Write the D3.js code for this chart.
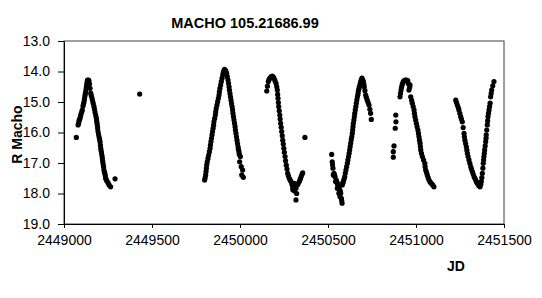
<!DOCTYPE html>
<html>
<head>
<meta charset="utf-8">
<script src="https://cdn.jsdelivr.net/npm/d3@7"></script>
<style>
  body { margin: 0; background: #fff; }
  svg { font-family: Arial, "Liberation Sans", sans-serif; }
  .title { font-weight: bold; font-size: 14.5px; }
  .axis-label { font-weight: bold; font-size: 14px; }
  .tick text { font-size: 14px; fill: #000; }
</style>
</head>
<body>
<svg id="chart" width="542" height="298"></svg>
<script>
const titleText = 'MACHO 105.21686.99';
const xAxisLabelText = 'JD';
const yAxisLabelText = 'R Macho';

const xTicks = [2449000, 2449500, 2450000, 2450500, 2451000, 2451500];
const yTicks = [13, 14, 15, 16, 17, 18, 19];

// observing season 1 (plus the lone point at 2449430)
const season1Jd = [
  2449070, 2449080, 2449083, 2449085, 2449088, 2449091, 2449094, 2449097, 2449101, 2449104,
  2449108, 2449111, 2449114, 2449116, 2449119, 2449121, 2449123, 2449126, 2449128, 2449130,
  2449132, 2449134, 2449136, 2449139, 2449142, 2449145, 2449148, 2449152, 2449155, 2449159,
  2449162, 2449166, 2449170, 2449173, 2449176, 2449180, 2449183, 2449185, 2449187, 2449189,
  2449191, 2449193, 2449196, 2449199, 2449202, 2449205, 2449207, 2449209, 2449211, 2449213,
  2449216, 2449218, 2449220, 2449222, 2449225, 2449227, 2449230, 2449233, 2449235, 2449237,
  2449240, 2449244, 2449250, 2449256, 2449265, 2449290, 2449430
];
const season1Mag = [
  16.16, 15.75, 15.70, 15.62, 15.58, 15.53, 15.46, 15.39, 15.32, 15.26,
  15.13, 15.06, 14.99, 14.90, 14.80, 14.73, 14.66, 14.56, 14.48, 14.40,
  14.33, 14.28, 14.30, 14.28, 14.31, 14.41, 14.55, 14.71, 14.79, 14.87,
  14.95, 15.04, 15.14, 15.23, 15.33, 15.43, 15.51, 15.59, 15.67, 15.75,
  15.85, 15.95, 16.05, 16.14, 16.22, 16.31, 16.42, 16.52, 16.60, 16.67,
  16.76, 16.85, 16.94, 17.03, 17.13, 17.23, 17.30, 17.36, 17.43, 17.50,
  17.55, 17.59, 17.65, 17.72, 17.78, 17.52, 14.74
];

// season 2
const season2Jd = [
  2449799, 2449802, 2449805, 2449807, 2449809, 2449811, 2449814, 2449818, 2449822, 2449826,
  2449830, 2449832, 2449835, 2449838, 2449841, 2449844, 2449847, 2449850, 2449852, 2449856,
  2449860, 2449862, 2449865, 2449869, 2449873, 2449877, 2449881, 2449883, 2449886, 2449890,
  2449894, 2449898, 2449902, 2449905, 2449909, 2449912, 2449915, 2449918, 2449920, 2449924,
  2449928, 2449932, 2449935, 2449938, 2449940, 2449943, 2449946, 2449949, 2449952, 2449955,
  2449958, 2449960, 2449963, 2449966, 2449969, 2449972, 2449974, 2449977, 2449980, 2449983,
  2449986, 2449989, 2449991, 2449994, 2449996, 2449998, 2450002, 2450007, 2450010, 2450015,
  2450019
];
const season2Mag = [
  17.56, 17.48, 17.39, 17.28, 17.17, 17.06, 16.96, 16.85, 16.74, 16.63,
  16.52, 16.41, 16.30, 16.19, 16.08, 15.97, 15.86, 15.76, 15.65, 15.54,
  15.43, 15.32, 15.21, 15.10, 14.99, 14.88, 14.77, 14.66, 14.55, 14.44,
  14.33, 14.22, 14.11, 14.03, 13.97, 13.93, 13.95, 13.97, 14.00, 14.06,
  14.17, 14.28, 14.39, 14.50, 14.61, 14.72, 14.83, 14.94, 15.05, 15.15,
  15.26, 15.37, 15.48, 15.59, 15.70, 15.81, 15.92, 16.03, 16.14, 16.25,
  16.36, 16.47, 16.55, 16.63, 16.71, 16.96, 16.79, 17.12, 17.39, 17.23,
  17.47
];

// season 3
const season3Jd = [
  2450152, 2450156, 2450161, 2450165, 2450170, 2450177, 2450184, 2450189, 2450193, 2450199,
  2450205, 2450209, 2450212, 2450214, 2450216, 2450218, 2450220, 2450223, 2450226, 2450228,
  2450231, 2450234, 2450237, 2450240, 2450243, 2450246, 2450249, 2450252, 2450256, 2450259,
  2450263, 2450267, 2450271, 2450275, 2450280, 2450285, 2450290, 2450295, 2450299, 2450300,
  2450304, 2450309, 2450310, 2450313, 2450318, 2450318, 2450322, 2450326, 2450330, 2450337,
  2450342, 2450347, 2450352, 2450356, 2450369
];
const season3Mag = [
  14.64, 14.48, 14.33, 14.26, 14.22, 14.17, 14.15, 14.18, 14.22, 14.30,
  14.39, 14.50, 14.61, 14.75, 14.88, 15.02, 15.15, 15.29, 15.43, 15.56,
  15.70, 15.83, 15.97, 16.11, 16.25, 16.38, 16.52, 16.65, 16.79, 16.93,
  17.07, 17.20, 17.34, 17.42, 17.50, 17.56, 17.61, 17.70, 17.78, 17.88,
  17.74, 17.67, 17.92, 17.80, 17.83, 18.21, 18.00, 17.72, 17.68, 17.61,
  17.53, 17.45, 17.38, 17.32, 16.16
];

// season 4
const season4Jd = [
  2450521, 2450524, 2450526, 2450528, 2450530, 2450534, 2450537, 2450540, 2450543, 2450547,
  2450550, 2450553, 2450553, 2450556, 2450559, 2450562, 2450564, 2450567, 2450568, 2450570,
  2450572, 2450576, 2450578, 2450580, 2450581, 2450584, 2450587, 2450591, 2450595, 2450598,
  2450602, 2450606, 2450610, 2450613, 2450617, 2450620, 2450623, 2450626, 2450629, 2450632,
  2450635, 2450638, 2450640, 2450642, 2450644, 2450647, 2450650, 2450652, 2450655, 2450658,
  2450661, 2450664, 2450667, 2450670, 2450672, 2450675, 2450678, 2450682, 2450686, 2450689,
  2450693, 2450697, 2450701, 2450704, 2450706, 2450710, 2450714, 2450718, 2450723, 2450728,
  2450733, 2450738, 2450742, 2450746
];
const season4Mag = [
  16.72, 16.96, 17.06, 17.17, 17.39, 17.34, 17.40, 17.45, 17.61, 17.56,
  17.62, 17.67, 17.83, 17.72, 17.78, 17.99, 17.84, 17.89, 18.10, 17.94,
  17.99, 18.16, 18.24, 18.32, 17.72, 17.66, 17.61, 17.53, 17.45, 17.34,
  17.23, 17.12, 17.01, 16.90, 16.79, 16.68, 16.57, 16.46, 16.35, 16.24,
  16.14, 16.03, 15.92, 15.81, 15.70, 15.59, 15.48, 15.37, 15.26, 15.15,
  15.04, 14.93, 14.83, 14.75, 14.66, 14.58, 14.50, 14.41, 14.33, 14.27,
  14.22, 14.27, 14.33, 14.41, 14.50, 14.63, 14.77, 14.85, 14.94, 15.02,
  15.10, 15.24, 15.37, 15.57
];

// season 5
const season5Jd = [
  2450871, 2450871, 2450875, 2450882, 2450885, 2450886, 2450909, 2450912, 2450915, 2450918,
  2450921, 2450925, 2450928, 2450933, 2450939, 2450946, 2450953, 2450957, 2450960, 2450964,
  2450966, 2450970, 2450975, 2450979, 2450984, 2450989, 2450991, 2450994, 2450998, 2451002,
  2451006, 2451011, 2451014, 2451017, 2451020, 2451023, 2451025, 2451027, 2451031, 2451036,
  2451043, 2451050, 2451052, 2451055, 2451060, 2451064, 2451069, 2451074, 2451080, 2451087,
  2451095, 2451102
];
const season5Mag = [
  16.63, 16.81, 16.44, 15.86, 15.43, 15.65, 14.83, 14.72, 14.61, 14.52,
  14.44, 14.38, 14.33, 14.30, 14.28, 14.28, 14.30, 14.40, 14.61, 14.52,
  14.44, 14.83, 14.94, 15.04, 15.15, 15.26, 15.37, 15.48, 15.59, 15.70,
  15.81, 15.92, 16.03, 16.14, 16.25, 16.35, 16.46, 16.57, 16.68, 16.79,
  16.90, 17.01, 17.12, 17.23, 17.31, 17.39, 17.48, 17.56, 17.62, 17.67,
  17.72, 17.78
];

// season 6
const season6Jd = [
  2451226, 2451230, 2451235, 2451240, 2451244, 2451249, 2451254, 2451258, 2451263, 2451268,
  2451273, 2451275, 2451278, 2451282, 2451286, 2451289, 2451292, 2451296, 2451301, 2451306,
  2451311, 2451315, 2451320, 2451325, 2451330, 2451335, 2451339, 2451344, 2451349, 2451356,
  2451364, 2451368, 2451371, 2451374, 2451377, 2451380, 2451382, 2451384, 2451386, 2451388,
  2451390, 2451393, 2451396, 2451398, 2451399, 2451402, 2451405, 2451407, 2451409, 2451412,
  2451415, 2451418, 2451421, 2451424, 2451427, 2451430, 2451436, 2451443
];
const season6Mag = [
  14.94, 15.02, 15.10, 15.18, 15.26, 15.37, 15.48, 15.56, 15.65, 15.84,
  16.03, 16.14, 16.25, 16.36, 16.47, 16.58, 16.68, 16.79, 16.90, 17.01,
  17.12, 17.20, 17.28, 17.36, 17.45, 17.50, 17.56, 17.62, 17.67, 17.74,
  17.78, 17.70, 17.61, 17.48, 17.34, 17.17, 17.01, 16.90, 16.79, 16.68,
  16.57, 16.44, 16.30, 16.19, 16.08, 15.92, 15.75, 15.62, 15.48, 15.37,
  15.26, 15.15, 15.04, 14.83, 14.72, 14.61, 14.47, 14.33
];

const jd = [].concat(season1Jd, season2Jd, season3Jd, season4Jd, season5Jd, season6Jd);
const rMag = [].concat(season1Mag, season2Mag, season3Mag, season4Mag, season5Mag, season6Mag);

const svg = d3.select('#chart');

const margin = { top: 41, left: 64 };
const innerWidth = 440;
const innerHeight = 183;

const data = jd.map((d, i) => ({ jd: d, mag: rMag[i] }));

const xScale = d3.scaleLinear()
  .domain([2449000, 2451500])
  .range([0, innerWidth]);

const yScale = d3.scaleLinear()
  .domain([13, 19])
  .range([0, innerHeight]);

const g = svg.append('g')
  .attr('transform', `translate(${margin.left},${margin.top})`);

// plot frame
g.append('rect')
  .attr('width', innerWidth)
  .attr('height', innerHeight)
  .attr('fill', 'none')
  .attr('stroke', '#404040')
  .attr('stroke-width', 1);

const yAxisG = g.append('g')
  .call(d3.axisLeft(yScale)
    .tickValues(yTicks)
    .tickFormat(d3.format('.1f'))
    .tickSize(6)
    .tickSizeOuter(0)
    .tickPadding(8));

const xAxisG = g.append('g')
  .attr('transform', `translate(0,${innerHeight})`)
  .call(d3.axisBottom(xScale)
    .tickValues(xTicks)
    .tickFormat(d3.format('d'))
    .tickSize(4)
    .tickSizeOuter(0)
    .tickPadding(7));

[xAxisG, yAxisG].forEach(a => {
  a.attr('font-family', null).attr('font-size', null);
  a.selectAll('.domain, .tick line').attr('stroke', '#000');
});

g.selectAll('circle').data(data)
  .enter().append('circle')
    .attr('cx', d => xScale(d.jd))
    .attr('cy', d => yScale(d.mag))
    .attr('r', 2.6)
    .attr('fill', '#000');

svg.append('text')
  .attr('class', 'title')
  .attr('x', 245)
  .attr('y', 28)
  .attr('text-anchor', 'middle')
  .text(titleText);

svg.append('text')
  .attr('class', 'axis-label')
  .attr('transform', `translate(22,${margin.top + innerHeight / 2 + 2}) rotate(-90)`)
  .attr('text-anchor', 'middle')
  .text(yAxisLabelText);

svg.append('text')
  .attr('class', 'axis-label')
  .attr('x', 456)
  .attr('y', 271)
  .attr('text-anchor', 'middle')
  .text(xAxisLabelText);
</script>
</body>
</html>
